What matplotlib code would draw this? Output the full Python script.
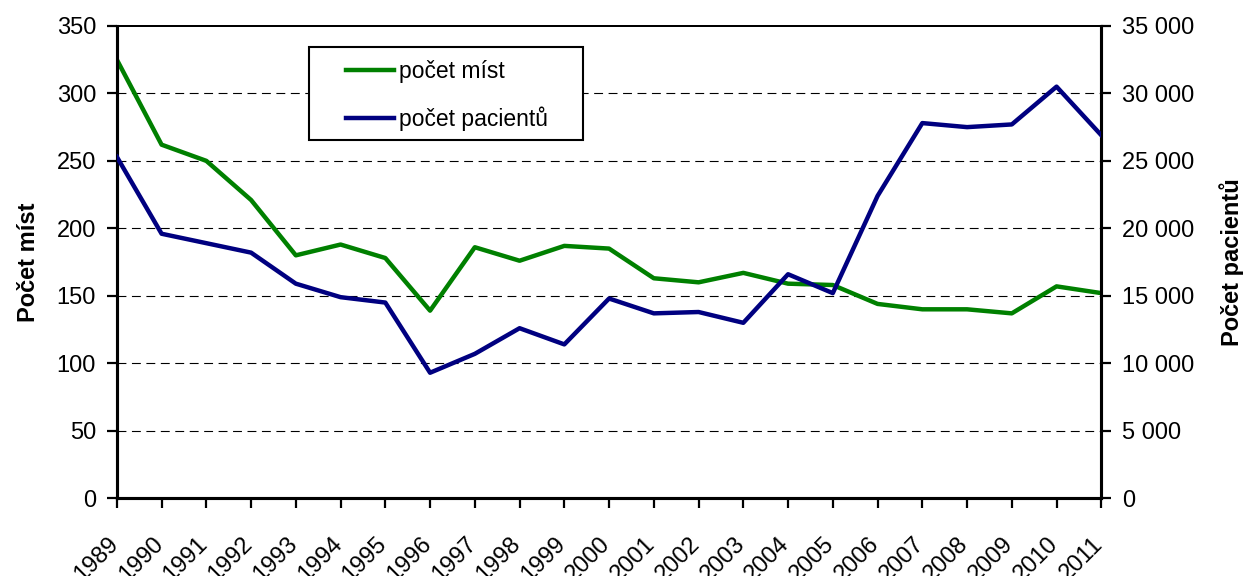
import matplotlib
matplotlib.use("Agg")
import matplotlib.pyplot as plt
from matplotlib.patches import Rectangle
from matplotlib.transforms import ScaledTranslation, blended_transform_factory
from matplotlib.ticker import FuncFormatter, MultipleLocator

plt.rcParams['font.family'] = ['Liberation Sans', 'DejaVu Sans']

# data
years = [str(y) for y in range(1989, 2012)]
pocet_mist = [325, 262, 250, 221, 180, 188, 178, 139, 186, 176, 187, 185,
              163, 160, 167, 159, 158, 144, 140, 140, 137, 157, 152]
pocet_pacientu = [25300, 19600, 18900, 18200, 15900, 14900, 14500, 9300, 10700,
                  12600, 11400, 14800, 13700, 13800, 13000, 16600, 15200, 22400,
                  27800, 27500, 27700, 30500, 26900]

green = '#008000'
navy = '#000080'
fs = 17

fig = plt.figure(figsize=(12.43, 5.76), dpi=100)
ax = fig.add_axes([0.094, 0.135, 0.792, 0.82])
ax2 = ax.twinx()

x = list(range(len(years)))
l1, = ax.plot(x, pocet_mist, color=green, lw=3.2, label='počet míst', zorder=3)
l2, = ax2.plot(x, pocet_pacientu, color=navy, lw=3.2, label='počet pacientů', zorder=3)

ax.set_xlim(0, len(years) - 1)
ax.set_ylim(0, 350)
ax2.set_ylim(0, 35000)
ax.yaxis.set_major_locator(MultipleLocator(50))
ax2.yaxis.set_major_locator(MultipleLocator(5000))
ax2.yaxis.set_major_formatter(FuncFormatter(lambda v, p: f"{int(v):,}".replace(',', ' ')))

for g in range(50, 350, 50):
    ax.axhline(g, color='black', lw=0.8, ls=(0, (8, 5)), zorder=1)

for a in (ax, ax2):
    a.tick_params(direction='out', length=7, width=1.6, pad=8)
    a.tick_params(axis='y', labelsize=fs)
    for s in a.spines.values():
        s.set_linewidth(2.2)
    a.spines['top'].set_linewidth(1.4)

# year labels: rotated, sitting a bit left of and well below each tick
ax.set_xticks(x)
ax.set_xticklabels([])
trans = blended_transform_factory(ax.transData, ax.transAxes) + \
    ScaledTranslation(-7 / 72, -25 / 72, fig.dpi_scale_trans)
for xi, yr in zip(x, years):
    ax.text(xi, 0, yr, transform=trans, rotation=45, ha='right', va='top',
            rotation_mode='anchor', fontsize=fs, clip_on=False)

ax.set_ylabel('Počet míst', fontsize=fs, fontweight='bold', labelpad=12)
ax2.set_ylabel('Počet pacientů', fontsize=fs, fontweight='bold', labelpad=18, rotation=90)

# legend frame drawn separately (content sits off-centre in the original)
ax.add_patch(Rectangle((0.195, 0.758), 0.279, 0.197, transform=ax.transAxes,
                       facecolor='white', edgecolor='black', lw=1.5, zorder=4,
                       clip_on=False))
leg = ax.legend(handles=[l1, l2], loc='upper left', bbox_to_anchor=(0.233, 0.927),
                fontsize=16.5, frameon=False, handlelength=2.1, borderpad=0,
                labelspacing=1.0, handletextpad=0.2, borderaxespad=0)
leg.set_zorder(5)

fig.savefig('out.png', dpi=100)
